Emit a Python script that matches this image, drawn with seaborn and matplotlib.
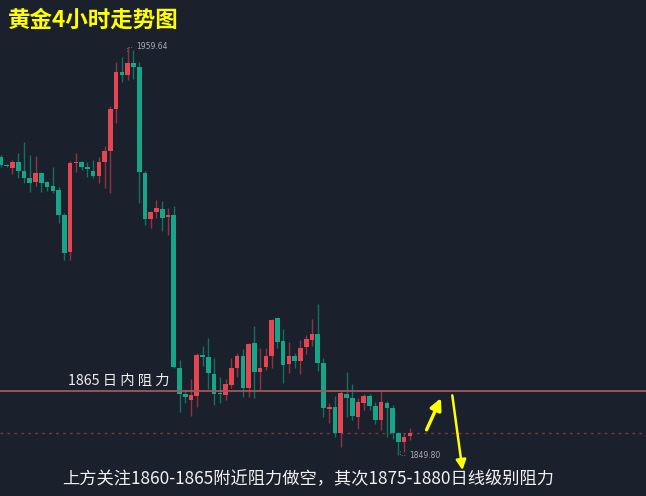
import numpy as np
import pandas as pd
import matplotlib
matplotlib.use("Agg")
import matplotlib.pyplot as plt
import seaborn as sns

# 4h gold candles (open, high, low, close)
opens = [1930.0, 1927.9, 1927.1, 1928.7, 1926.3, 1924.4, 1923.3, 1925.7, 1923.3, 1922.2,
         1921.1, 1914.4, 1904.5, 1928.4, 1928.7, 1927.3, 1926.3, 1924.9, 1928.7, 1931.6,
         1943.0, 1952.9, 1952.1, 1955.3, 1954.3, 1925.7, 1913.3, 1915.2, 1916.0, 1913.9,
         1914.4, 1873.2, 1866.2, 1864.6, 1865.7, 1876.5, 1876.2, 1871.6, 1866.5, 1866.0,
         1868.7, 1873.2, 1876.5, 1867.8, 1880.0, 1872.2, 1873.5, 1876.5, 1886.7, 1880.5,
         1874.3, 1876.5, 1875.1, 1878.9, 1880.8, 1882.4, 1874.6, 1862.2, 1862.7, 1855.7,
         1866.2, 1865.2, 1860.0, 1863.8, 1865.7, 1863.0, 1859.2, 1863.8, 1862.5, 1855.7,
         1853.3, 1854.9]
highs = [1930.6, 1928.1, 1929.2, 1931.1, 1934.1, 1930.6, 1930.3, 1925.9, 1923.6, 1927.3,
         1922.0, 1915.0, 1929.0, 1931.1, 1929.0, 1928.7, 1929.2, 1930.0, 1933.0, 1943.8,
         1955.6, 1957.0, 1959.64, 1958.8, 1955.6, 1926.3, 1915.4, 1918.5, 1918.2, 1916.3,
         1916.8, 1875.4, 1867.3, 1870.3, 1877.3, 1879.2, 1881.3, 1875.9, 1870.8, 1870.3,
         1875.9, 1877.3, 1878.3, 1880.0, 1884.5, 1878.6, 1878.6, 1886.3, 1886.8, 1883.7,
         1880.2, 1877.3, 1880.8, 1882.1, 1886.4, 1890.5, 1875.9, 1863.8, 1865.7, 1867.3,
         1872.2, 1868.9, 1865.2, 1866.2, 1866.2, 1864.1, 1867.0, 1864.3, 1863.3, 1855.9,
         1855.7, 1857.1]
lows = [1927.3, 1927.3, 1925.5, 1924.4, 1923.0, 1920.6, 1922.2, 1920.6, 1920.9, 1920.3,
        1912.3, 1902.3, 1902.3, 1926.0, 1926.5, 1924.6, 1924.4, 1923.0, 1921.7, 1920.3,
        1939.2, 1950.2, 1950.8, 1951.0, 1917.6, 1911.7, 1910.9, 1913.6, 1910.1, 1909.0,
        1873.2, 1861.4, 1863.8, 1860.3, 1862.7, 1873.8, 1867.6, 1863.3, 1863.8, 1864.6,
        1867.8, 1870.8, 1865.4, 1865.4, 1865.2, 1867.3, 1872.7, 1873.2, 1878.6, 1869.2,
        1871.9, 1873.2, 1871.6, 1877.0, 1879.2, 1872.4, 1860.0, 1858.4, 1854.7, 1852.0,
        1860.0, 1859.2, 1856.8, 1861.9, 1861.9, 1858.2, 1856.5, 1854.7, 1854.1, 1849.8,
        1850.6, 1853.8]
closes = [1927.9, 1927.6, 1928.7, 1926.3, 1924.4, 1923.0, 1925.7, 1923.0, 1922.0, 1920.9,
          1914.4, 1904.2, 1928.4, 1928.7, 1927.3, 1926.8, 1924.9, 1928.7, 1931.6, 1943.0,
          1952.9, 1952.1, 1955.3, 1954.3, 1926.0, 1913.3, 1915.2, 1916.3, 1913.6, 1914.4,
          1873.5, 1866.2, 1865.4, 1866.0, 1876.7, 1876.2, 1871.9, 1866.2, 1866.2, 1868.9,
          1873.2, 1876.5, 1867.8, 1879.7, 1872.2, 1873.2, 1876.5, 1886.2, 1880.2, 1874.0,
          1876.5, 1875.1, 1878.6, 1881.0, 1882.4, 1874.6, 1862.5, 1862.7, 1855.7, 1866.5,
          1865.2, 1860.3, 1864.1, 1865.7, 1863.0, 1859.2, 1864.1, 1862.5, 1855.7, 1853.3,
          1854.7, 1855.7]

resistance = 1867.0
title_text = "黄金4小时走势图"
line_text = "1865 日 内 阻 力"
note_text = "上方关注1860-1865附近阻力做空，其次1875-1880日线级别阻力"

df = pd.DataFrame({"open": opens, "high": highs, "low": lows, "close": closes})
df["idx"] = np.arange(len(df))
df["up"] = df["close"] >= df["open"]

bg = "#1b202d"
red_body, red_wick = "#e5464f", "#8c3540"
green_body, green_wick = "#17a589", "#14705f"

sns.set_theme(style="dark", rc={"axes.facecolor": bg, "figure.facecolor": bg})
plt.rcParams["font.family"] = ["Noto Sans CJK SC", "DejaVu Sans"]

fig = plt.figure(figsize=(6.46, 4.96), dpi=100)
ax = fig.add_axes([0, 0, 1, 1])
ax.set_facecolor(bg)

# wicks
ax.vlines(df["idx"], df["low"], df["high"],
          colors=np.where(df["up"], red_wick, green_wick), linewidth=1.0, zorder=2)
# bodies (red = up, green = down)
body_lo = df[["open", "close"]].min(axis=1)
body_h = (df["open"] - df["close"]).abs().clip(lower=0.4)
ax.bar(df["idx"], body_h, bottom=body_lo, width=0.8,
       color=np.where(df["up"], red_body, green_body), linewidth=0, zorder=3)

# resistance line + last price dotted line
ax.axhline(resistance, color="#a0575e", linewidth=1.3, zorder=4)
ax.axhline(df["close"].iloc[-1], color="#7a3540", linewidth=1.0,
           linestyle=(0, (2, 3)), zorder=1)

# high / low markers
hi_i = df["high"].idxmax()
lo_i = df["low"].idxmin()
ax.plot([hi_i - 0.2, hi_i - 0.2, hi_i + 1.0], [df["high"][hi_i] - 1.2, df["high"][hi_i], df["high"][hi_i]],
        color="#6d7280", linewidth=0.7, linestyle=":")
ax.text(hi_i + 1.5, df["high"][hi_i], f"{df['high'][hi_i]:.2f}", color="#a9adb6",
        fontsize=5.5, va="center", ha="left", family="DejaVu Sans")
ax.plot([lo_i + 0.2, lo_i + 0.2, lo_i + 1.4], [df["low"][lo_i] + 1.2, df["low"][lo_i], df["low"][lo_i]],
        color="#6d7280", linewidth=0.7, linestyle=":")
ax.text(lo_i + 1.9, df["low"][lo_i] - 0.2, f"{df['low'][lo_i]:.2f}", color="#a9adb6",
        fontsize=5.5, va="center", ha="left", family="DejaVu Sans")

# yellow arrows
ax.annotate("", xy=(76.6, 1865.8), xytext=(73.7, 1855.9),
            arrowprops=dict(arrowstyle="-|>", color="#ffff00", lw=2.4, mutation_scale=17))
ax.annotate("", xy=(80.2, 1845.0), xytext=(78.3, 1866.6),
            arrowprops=dict(arrowstyle="-|>", color="#ffff00", lw=1.8,
                            mutation_scale=15))

ax.set_xlim(-0.17, 112.0)
ax.set_ylim(1838.77, 1972.29)
ax.set_xticks([])
ax.set_yticks([])
for s in ax.spines.values():
    s.set_visible(False)

fig.text(8 / 646, 1 - 20 / 496, title_text, color="#ffff00", fontsize=16.2,
         fontweight="bold", va="center", ha="left")
fig.text(68 / 646, 1 - 381 / 496, line_text, color="#eeeeee", fontsize=10.3,
         va="center", ha="left")
fig.text(62 / 646, 1 - 478 / 496, note_text, color="#f2f2f2", fontsize=12.4,
         va="center", ha="left")

fig.savefig("out.png", dpi=100, facecolor=bg)
